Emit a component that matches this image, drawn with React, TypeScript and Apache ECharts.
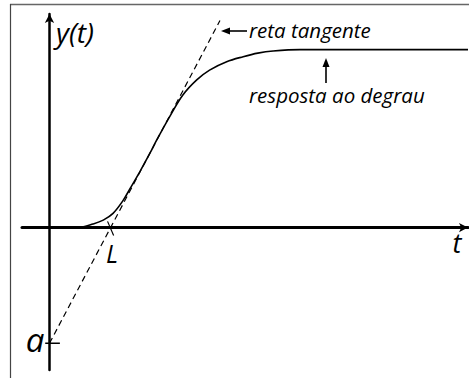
import React, { useEffect, useRef } from "react";
import * as echarts from "echarts";

// Step response samples (time, output)
const timeValues = [0.3, 0.5, 0.71, 0.88, 1.04, 1.2, 1.32, 1.48, 1.64, 1.76, 1.97, 2.18, 2.41, 2.62, 2.9, 3.17, 3.41, 3.66, 4.1, 6.85];
const responseValues = [0, 0.002, 0.02, 0.042, 0.08, 0.15, 0.22, 0.315, 0.415, 0.495, 0.625, 0.744, 0.83, 0.885, 0.932, 0.96, 0.98, 0.992, 1.0, 1.0];

// Tangent line at the inflection point: from (0, a) to its top end
const tangentTime = [0, 2.79];
const tangentValues = [-0.65, 1.163];

// Marked points on the axes
const deadTime = 1; // L
const interceptA = -0.65; // a

const FONT = "'Open Sans', Lato, sans-serif";

export default function App() {
  const ref = useRef<HTMLDivElement>(null);

  useEffect(() => {
    if (!ref.current) return;
    const chart = echarts.init(ref.current, undefined, { renderer: "svg" });

    const arrowHead = (tip: [number, number], dir: "left" | "up") => {
      const [x, y] = tip;
      const pts =
        dir === "left"
          ? [[x, y], [x + 9, y - 3.5], [x + 9, y + 3.5]]
          : [[x, y], [x - 3.5, y + 9], [x + 3.5, y + 9]];
      return { type: "polygon", shape: { points: pts }, style: { fill: "#000" }, silent: true };
    };

    chart.setOption({
      animation: false,
      backgroundColor: "#fff",
      grid: { left: 22, right: 1, top: 14, bottom: 8 },
      xAxis: {
        type: "value",
        min: -0.45,
        max: 6.85,
        axisLine: {
          onZero: true,
          lineStyle: { color: "#000", width: 3 },
          symbol: ["none", "arrow"],
          symbolSize: [7, 9],
        },
        axisTick: { show: false },
        axisLabel: { show: false },
        splitLine: { show: false },
      },
      yAxis: {
        type: "value",
        min: -0.8,
        max: 1.2,
        axisLine: {
          onZero: true,
          lineStyle: { color: "#000", width: 2.5 },
          symbol: ["none", "arrow"],
          symbolSize: [7, 9],
        },
        axisTick: { show: false },
        axisLabel: { show: false },
        splitLine: { show: false },
      },
      series: [
        {
          name: "resposta ao degrau",
          type: "line",
          data: timeValues.map((t, i) => [t, responseValues[i]]),
          smooth: 0.35,
          showSymbol: false,
          lineStyle: { color: "#000", width: 1.6 },
          z: 3,
        },
        {
          name: "reta tangente",
          type: "line",
          data: tangentTime.map((t, i) => [t, tangentValues[i]]),
          showSymbol: false,
          lineStyle: { color: "#000", width: 1.2, type: [6, 4] },
          z: 4,
        },
        {
          name: "tick a",
          type: "line",
          data: [[-0.07, interceptA], [0.17, interceptA]],
          showSymbol: false,
          lineStyle: { color: "#000", width: 1.5 },
        },
        {
          name: "tick L",
          type: "line",
          data: [[deadTime - 0.05, 0.035], [deadTime + 0.05, -0.045]],
          showSymbol: false,
          lineStyle: { color: "#000", width: 1.2 },
        },
      ],
      graphic: [
        // frame
        { type: "line", shape: { x1: 10, y1: 4.5, x2: 469, y2: 4.5 }, style: { stroke: "#666", lineWidth: 1.5 } },
        { type: "line", shape: { x1: 10.5, y1: 4, x2: 10.5, y2: 378 }, style: { stroke: "#444", lineWidth: 1.2 } },
        // axis names and marks
        { type: "text", x: 56, y: 32, style: { text: "y(t)", font: `italic 28px ${FONT}`, fill: "#000", verticalAlign: "middle" } },
        { type: "text", x: 457, y: 242, style: { text: "t", font: `italic 27px ${FONT}`, fill: "#000", align: "center", verticalAlign: "middle" } },
        { type: "text", x: 112, y: 253, style: { text: "L", font: `italic 25px ${FONT}`, fill: "#000", align: "center", verticalAlign: "middle" } },
        { type: "text", x: 35, y: 339, style: { text: "a", font: `italic 33px ${FONT}`, fill: "#000", align: "center", verticalAlign: "middle" } },
        // annotations
        { type: "line", shape: { x1: 228, y1: 31, x2: 247, y2: 31 }, style: { stroke: "#000", lineWidth: 1.6 } },
        arrowHead([221, 31], "left"),
        { type: "text", x: 249, y: 30, style: { text: "reta tangente", font: `italic 20.5px ${FONT}`, fill: "#000", verticalAlign: "middle" } },
        { type: "line", shape: { x1: 326, y1: 65, x2: 326, y2: 83 }, style: { stroke: "#000", lineWidth: 1.6 } },
        arrowHead([326, 58], "up"),
        { type: "text", x: 249, y: 95, style: { text: "resposta ao degrau", font: `italic 20.5px ${FONT}`, fill: "#000", verticalAlign: "middle" } },
      ],
    });

    return () => chart.dispose();
  }, []);

  return (
    <div
      ref={ref}
      style={{ position: "fixed", left: 0, top: 0, width: 469, height: 378 }}
    />
  );
}
